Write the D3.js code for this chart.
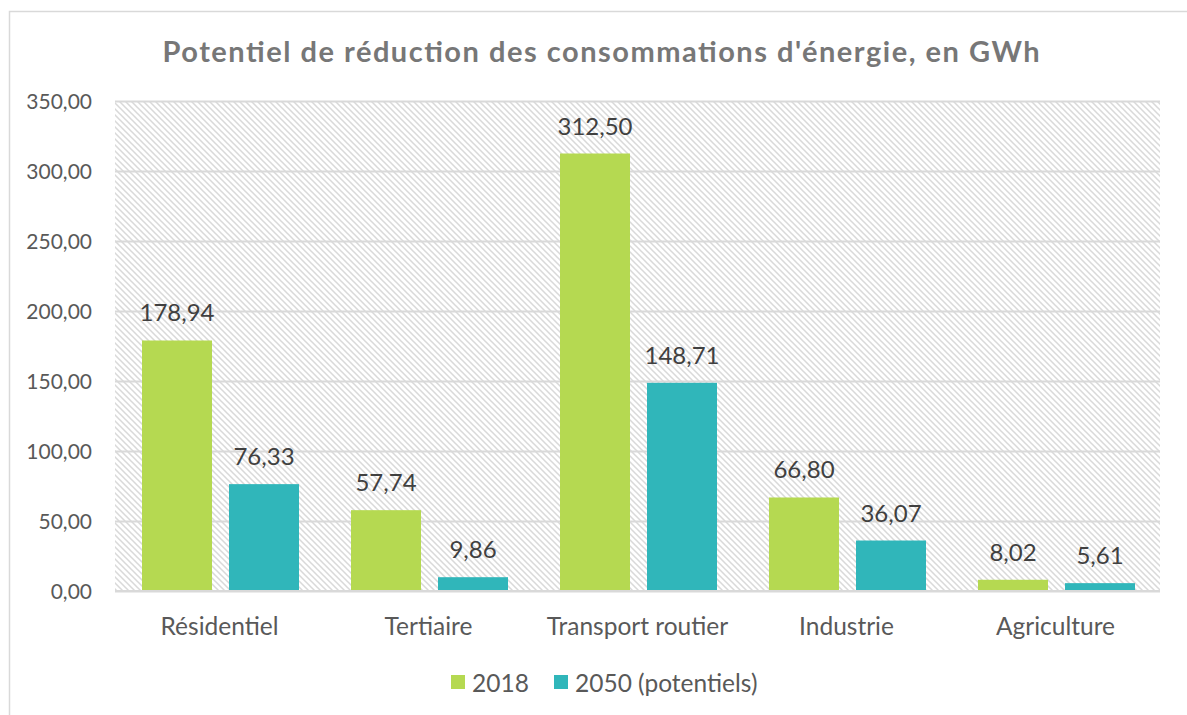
<!DOCTYPE html>
<html><head><meta charset="utf-8">
<script src="https://cdnjs.cloudflare.com/ajax/libs/d3/7.8.5/d3.min.js"></script>
<style>body{margin:0;background:#fff;} svg{display:block;}</style>
</head><body>
<svg id="chart" width="1187" height="715"></svg>
<script>
const categories = ["Résidentiel", "Tertiaire", "Transport routier", "Industrie", "Agriculture"];
const seriesNames = ["2018", "2050 (potentiels)"];
const values2018 = [178.94, 57.74, 312.50, 66.80, 8.02];
const values2050 = [76.33, 9.86, 148.71, 36.07, 5.61];
const yTicks = [0, 50, 100, 150, 200, 250, 300, 350];
const title = "Potentiel de réduction des consommations d'énergie, en GWh";
const colors = ["#b5d951", "#30b6ba"];

const svg = d3.select("#chart");
const fr = v => v.toFixed(2).replace(".", ",");
const margin = {left: 115, right: 1160, top: 101, bottom: 591};
const FONT = "Lato, sans-serif";

// outer border
svg.append("rect").attr("x", 9.5).attr("y", 11.5).attr("width", 1200).attr("height", 720)
  .attr("fill", "#fff").attr("stroke", "#d9d9d9").attr("stroke-width", 1.5);

const defs = svg.append("defs");
const pat = defs.append("pattern").attr("id", "hatch").attr("patternUnits", "userSpaceOnUse")
  .attr("width", 6).attr("height", 6);
pat.append("rect").attr("width", 6).attr("height", 6).attr("fill", "#fff");
pat.append("path").attr("d", "M-1,-1 L7,7 M-7,-1 L1,7 M5,-1 L13,7")
  .attr("stroke", "#d9d9d9").attr("stroke-width", 1.5);

const x = d3.scaleBand().domain(categories).range([margin.left, margin.right]).paddingInner(0).paddingOuter(0);
const xs = d3.scaleBand().domain(seriesNames).range([27, 27 + 157]).paddingInner(17 / 87).paddingOuter(0);
const y = d3.scaleLinear().domain([0, 350]).range([margin.bottom, margin.top]);

svg.append("rect").attr("x", margin.left).attr("y", margin.top)
  .attr("width", margin.right - margin.left).attr("height", margin.bottom - margin.top)
  .attr("fill", "url(#hatch)");

// gridlines
svg.append("g").selectAll("line").data(yTicks).join("line")
  .attr("x1", margin.left).attr("x2", margin.right)
  .attr("y1", d => Math.round(y(d)) + 0.5).attr("y2", d => Math.round(y(d)) + 0.5)
  .attr("stroke", "#d9d9d9").attr("stroke-width", 2);

// y axis labels
const yAxis = d3.axisLeft(y).tickValues(yTicks).tickFormat(fr).tickSize(0).tickPadding(0);
const yg = svg.append("g").attr("transform", "translate(92,0)").call(yAxis);
yg.select(".domain").remove();
yg.selectAll("text").attr("font-family", FONT).attr("font-size", 21)
  .attr("fill", "#595959").attr("dy", "0.35em");

// bars
const data = categories.map((c, i) => ({c, vals: [values2018[i], values2050[i]]}));
const groups = svg.append("g").selectAll("g").data(data).join("g")
  .attr("transform", d => `translate(${x(d.c)},0)`);
groups.selectAll("rect").data(d => d.vals.map((v, j) => ({v, s: seriesNames[j], j}))).join("rect")
  .attr("x", d => xs(d.s)).attr("width", xs.bandwidth())
  .attr("y", d => y(d.v)).attr("height", d => y(0) - y(d.v))
  .attr("fill", d => colors[d.j]);
groups.selectAll("text").data(d => d.vals.map((v, j) => ({v, s: seriesNames[j], j}))).join("text")
  .attr("x", d => xs(d.s) + xs.bandwidth() / 2).attr("y", d => y(d.v) - 19)
  .attr("text-anchor", "middle").attr("font-family", FONT).attr("font-size", 24)
  .attr("fill", "#404040").text(d => fr(d.v));

// x axis line
svg.append("line").attr("x1", margin.left).attr("x2", margin.right)
  .attr("y1", margin.bottom).attr("y2", margin.bottom).attr("stroke", "#d9d9d9").attr("stroke-width", 2);

// x axis labels
const xAxis = d3.axisBottom(x).tickSize(0).tickPadding(0);
const xg = svg.append("g").attr("transform", "translate(0,635)").call(xAxis);
xg.select(".domain").remove();
xg.selectAll("text").attr("font-family", FONT).attr("font-size", 24.5)
  .attr("fill", "#595959").attr("dy", 0);

// title
svg.append("text").attr("x", 601).attr("y", 62).attr("text-anchor", "middle")
  .attr("font-family", FONT).attr("font-weight", "bold").attr("font-size", 29)
  .attr("textLength", 877).attr("lengthAdjust", "spacing")
  .attr("fill", "#777777").text(title);

// legend
const legX = [451, 554];
const leg = svg.append("g").selectAll("g").data(seriesNames).join("g")
  .attr("transform", (d, i) => `translate(${legX[i]},675)`);
leg.append("rect").attr("width", 14).attr("height", 14).attr("fill", (d, i) => colors[i]);
leg.append("text").attr("x", 21).attr("y", 17)
  .attr("font-family", FONT).attr("font-size", 24.5).attr("fill", "#595959").text(d => d);
</script>
</body></html>
